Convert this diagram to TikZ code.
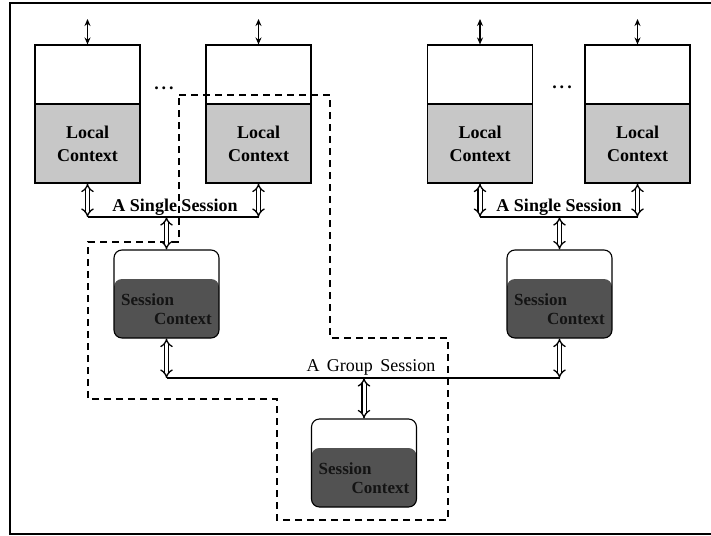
\documentclass[tikz,border=0pt]{standalone}
\usepackage{fontspec}
\setmainfont{Liberation Serif}
\usepackage{tikz}
\usetikzlibrary{arrows.meta}

\tikzset{
  topbox/.style={draw, line width=1.1pt, fill=white, minimum width=105pt,
    minimum height=59pt, inner sep=0pt},
  localbox/.style={draw, line width=1.1pt, fill=black!22, minimum width=105pt,
    minimum height=79pt, inner sep=0pt, align=center,
    font=\fontsize{18}{23}\selectfont\bfseries},
  sessbox/.style={draw, line width=1.1pt, rounded corners=8pt, minimum width=105pt,
    minimum height=88pt, inner sep=0pt,
    path picture={\fill[black!68] (path picture bounding box.south west)
      rectangle ([yshift=-29pt]path picture bounding box.north east);}},
  sesstext/.style={align=left, inner sep=0pt, text=black!92,
    font=\fontsize{17}{19}\selectfont\bfseries},
  link/.style={line width=1.1pt},
  dbl/.style={line width=1.3pt, double distance=3pt,
    {Implies[length=8pt,width=13pt]}-{Implies[length=8pt,width=13pt]}},
  thin/.style={line width=1.1pt, {Stealth[length=7pt,width=6pt]}-{Stealth[length=7pt,width=6pt]}},
  group/.style={line width=1.6pt, dash pattern=on 7pt off 5pt},
  lbl/.style={font=\fontsize{18}{20}\selectfont\bfseries, inner sep=1pt}
}

\begin{document}
\begin{tikzpicture}[x=1pt, y=-1pt]

    \useasboundingbox (0, 0) rectangle (711, 535);
    \draw [line width=1.5pt] (10, 3) rectangle (716, 534);

    % local context boxes
    \foreach \n/\x in {1/87.5, 2/258.5, 3/480, 4/637.5} {
      \node [topbox] (t\n) at (\x, 74.5) {};
      \node [localbox] (l\n) at (\x, 143.5) {Local\\Context};
      \coordinate (in\n) at (\x, 19);
      \draw [thin] (in\n) -- (t\n.north);
    }

    \node [anchor=base, font=\fontsize{18}{20}\selectfont\bfseries] (dots1) at (164, 89) {.\,.\,.};
    \node [anchor=base, font=\fontsize{18}{20}\selectfont\bfseries] (dots2) at (562, 88) {.\,.\,.};

    % session context boxes
    \node [sessbox] (s1) at (166.5, 294) {};
    \node [sessbox] (s2) at (559.5, 294) {};
    \node [sessbox] (s3) at (364, 463) {};
    \foreach \s in {s1, s2, s3}
      \node [sesstext] (\s txt) at ([yshift=-15pt]\s.center)
        {Session\\\hspace*{33pt}Context};

    % group boundary
    \draw [group] (179, 95) -- (330, 95) -- (330, 338) -- (448, 338)
      -- (448, 520) -- (277, 520) -- (277, 399) -- (88, 399)
      -- (88, 242) -- (179, 242) -- cycle;

    % single sessions
    \coordinate (b1) at (87.5, 217);
    \coordinate (b2) at (258.5, 217);
    \coordinate (b12) at (166.5, 217);
    \coordinate (b3) at (480, 217);
    \coordinate (b4) at (637.5, 217);
    \coordinate (b34) at (559.5, 217);
    \draw [link] (b1) -- (b2);
    \draw [link] (b3) -- (b4);
    \draw [dbl] (l1.south) -- (b1);
    \draw [dbl] (l2.south) -- (b2);
    \draw [dbl] (l3.south) -- (b3);
    \draw [dbl] (l4.south) -- (b4);
    \draw [dbl] (b12) -- (s1.north);
    \draw [dbl] (b34) -- (s2.north);
    \node [lbl, above] (single1) at (175, 217) {A Single Session};
    \node [lbl, above] (single2) at (559, 217) {A Single Session};

    % group session
    \coordinate (g1) at (166.5, 378);
    \coordinate (g2) at (559.5, 378);
    \coordinate (g3) at (364, 378);
    \draw [link] (g1) -- (g2);
    \draw [dbl] (s1.south) -- (g1);
    \draw [dbl] (s2.south) -- (g2);
    \draw [dbl] (g3) -- (s3.north);
    \node [above, inner sep=2pt, font=\fontsize{18}{20}\selectfont] (groupl) at (371, 378)
      {A\, Group\, Session};

  \end{tikzpicture}
\end{document}
